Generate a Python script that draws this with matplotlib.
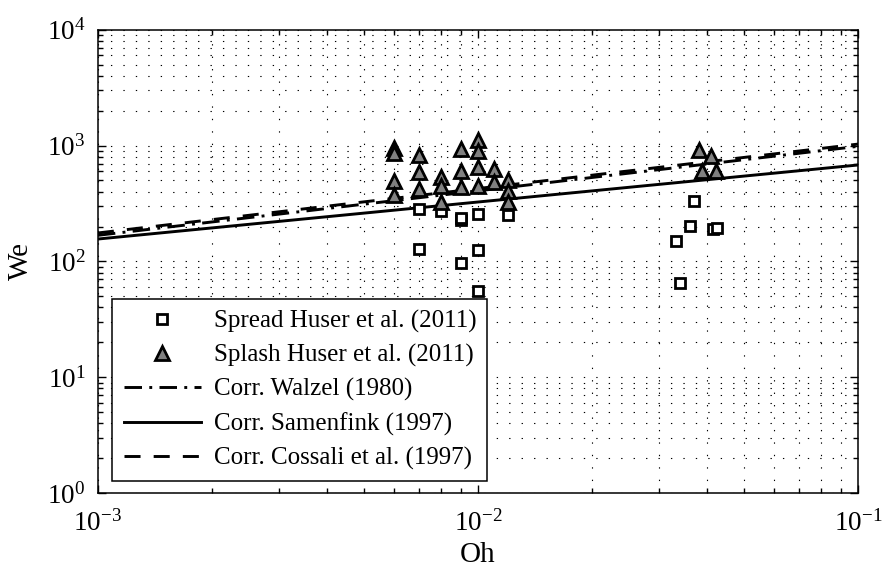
import numpy as np
import matplotlib
matplotlib.use("Agg")
import matplotlib.pyplot as plt
from matplotlib.ticker import LogLocator, NullFormatter

plt.rcParams['font.family'] = ['Liberation Serif', 'DejaVu Serif']
plt.rcParams['mathtext.fontset'] = 'stix'

# Spread (Huser et al. 2011)
spread_oh = [0.007, 0.007, 0.008, 0.009, 0.009, 0.009, 0.010, 0.010, 0.010, 0.012,
             0.0331, 0.034, 0.0361, 0.0370, 0.0416, 0.0424]
spread_we = [281, 127, 275, 229, 235, 96, 258, 126, 55, 254,
             149, 65, 201, 329, 191, 195]

# Splash (Huser et al. 2011)
splash_oh = [0.006, 0.006, 0.006, 0.006,
             0.007, 0.007, 0.007,
             0.008, 0.008, 0.008,
             0.009, 0.009, 0.009,
             0.010, 0.010, 0.010, 0.010,
             0.011, 0.011,
             0.012, 0.012, 0.012,
             0.0382, 0.0410, 0.0389, 0.0423]
splash_we = [948, 865, 499, 378,
             832, 589, 424,
             533, 446, 324,
             936, 608, 437,
             1127, 906, 650, 452,
             630, 489,
             509, 409, 324,
             924, 809, 600, 600]

# correlations, read at the ends of the Oh range
corr_oh = [1e-3, 1e-1]
walzel_we = [168, 985]
samenfink_we = [156, 680]
cossali_we = [176, 1030]

fig = plt.figure(figsize=(8.82, 5.72), dpi=100)
ax = fig.add_axes([0.111, 0.138, 0.862, 0.81])

ax.plot(spread_oh, spread_we, ls='none', marker='s', ms=7, mfc='white',
        mec='black', mew=2, label='Spread Huser et al. (2011)', zorder=4)
ax.plot(splash_oh, splash_we, ls='none', marker='^', ms=10.5, mfc='#808080',
        mec='black', mew=2, label='Splash Huser et al. (2011)', zorder=4)
ax.plot(corr_oh, walzel_we, color='black', lw=2.1, ls=(0, (6, 2.5, 1, 2.5)),
        label='Corr. Walzel (1980)', zorder=3)
ax.plot(corr_oh, samenfink_we, color='black', lw=2.1, ls='-',
        label='Corr. Samenfink (1997)', zorder=3)
ax.plot(corr_oh, cossali_we, color='black', lw=2.1, ls=(0, (5.5, 4.5)),
        label='Corr. Cossali et al. (1997)', zorder=3)

ax.set_xscale('log')
ax.set_yscale('log')
ax.set_xlim(1e-3, 1e-1)
ax.set_ylim(1e0, 1e4)

ax.xaxis.set_major_locator(LogLocator(base=10, numticks=10))
ax.yaxis.set_major_locator(LogLocator(base=10, numticks=10))
ax.xaxis.set_minor_locator(LogLocator(base=10, subs=np.arange(2, 10), numticks=20))
ax.yaxis.set_minor_locator(LogLocator(base=10, subs=np.arange(2, 10), numticks=20))
ax.xaxis.set_minor_formatter(NullFormatter())
ax.yaxis.set_minor_formatter(NullFormatter())

ax.grid(True, which='both', color='black', lw=0.8, ls=(0, (1.2, 10)))
ax.set_axisbelow(True)

ax.tick_params(which='both', direction='in', top=True, right=True, width=1)
ax.tick_params(which='major', length=6, labelsize=19.5)
ax.tick_params(axis='x', which='major', pad=12)
ax.tick_params(axis='y', which='major', pad=9)
ax.tick_params(which='minor', length=3.5)
for s in ax.spines.values():
    s.set_linewidth(1.1)

ax.set_xlabel('Oh', fontsize=21, labelpad=4)
ax.set_ylabel('We', fontsize=21, labelpad=9)

leg = ax.legend(loc='lower left', bbox_to_anchor=(0.019, 0.026), fontsize=18,
                fancybox=False, framealpha=1, edgecolor='black',
                handlelength=3.1, handletextpad=0.5, labelspacing=0.44,
                borderpad=0.45, borderaxespad=0)
leg.get_frame().set_linewidth(1.1)

fig.savefig('out.png', dpi=100)
